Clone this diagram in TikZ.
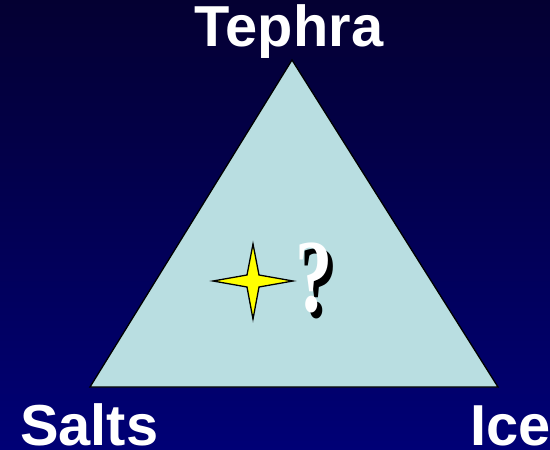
\documentclass[tikz,border=0pt]{standalone}
\usepackage{fontspec}
\setmainfont{Liberation Sans}
\newfontfamily\qfont{Liberation Serif}
\definecolor{bgtop}{RGB}{4,0,50}
\definecolor{bgbot}{RGB}{0,0,118}
\definecolor{tri}{RGB}{185,222,225}
\definecolor{staryel}{RGB}{255,255,0}
\tikzset{
  lbl/.style={text=white, font=\fontsize{58}{58}\selectfont\bfseries, inner sep=0pt, anchor=base},
  qmark/.style={font=\qfont\bfseries\fontsize{104}{104}\selectfont, inner sep=0pt, anchor=base, xscale=0.72}
}
\begin{document}
\begin{tikzpicture}[x=1bp,y=-1bp]
\useasboundingbox (0,0) rectangle (550,450);
\shade[top color=bgtop, bottom color=bgbot] (0,0) rectangle (550,450);
\coordinate (A) at (292,60);
\coordinate (B) at (90,387);
\coordinate (C) at (498,387);
\draw[fill=tri, line width=1.3bp, line join=miter] (A) -- (B) -- (C) -- cycle;
% star
\coordinate (S) at (253,281);
\draw[fill=staryel, line width=1.3bp, line join=miter]
  (213,281) -- (247,275) -- (253,244) -- (259,275) -- (293,281)
  -- (259,287) -- (253,319) -- (247,287) -- cycle;
% question mark
\node[qmark, text=black] (qs) at (319,317) {?};
\node[qmark, text=white] (q) at (314,311) {?};
% labels
\node[lbl] (tephra) at (289,47) {Tephra};
\node[lbl, anchor=base west] (salts) at (20,445) {Salts};
\node[lbl, anchor=base west] (ice) at (470,445) {Ice};
\end{tikzpicture}
\end{document}
